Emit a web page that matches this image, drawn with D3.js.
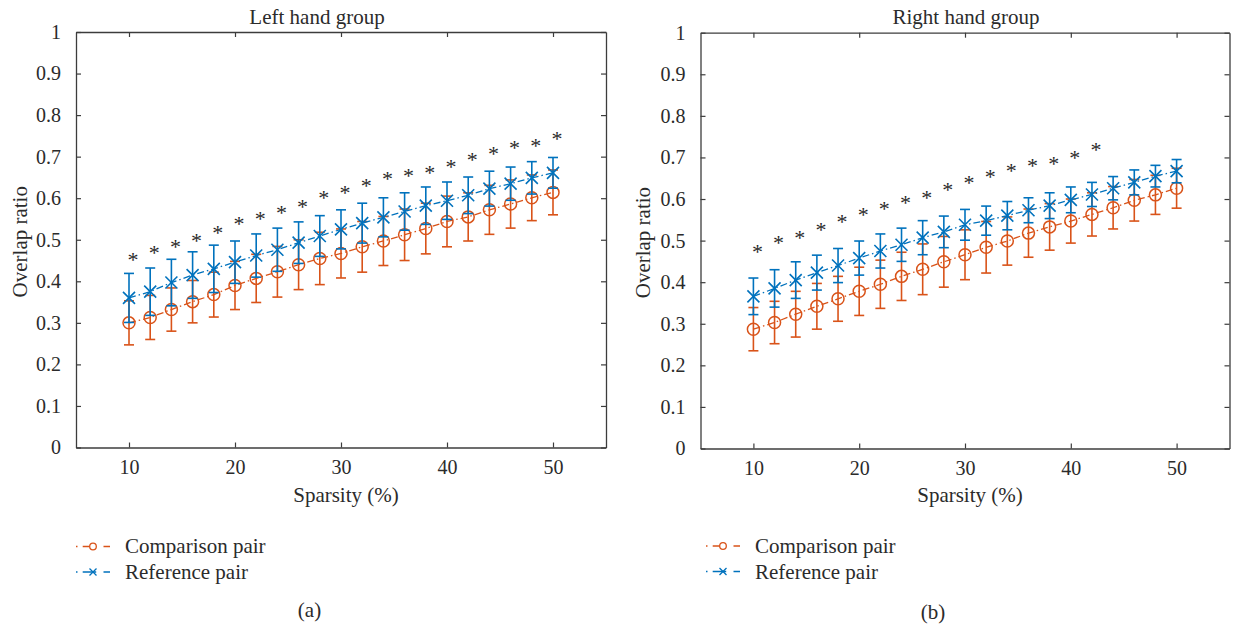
<!DOCTYPE html>
<html>
<head>
<meta charset="utf-8">
<script src="https://cdn.jsdelivr.net/npm/d3@7"></script>
<style>
  html, body { margin: 0; padding: 0; background: #fff; }
  svg { display: block; }
</style>
</head>
<body>
<svg id="chart" width="1237" height="631"></svg>
<script>
// ---------------- data ----------------
const sparsity = [10, 12, 14, 16, 18, 20, 22, 24, 26, 28, 30, 32, 34, 36, 38, 40, 42, 44, 46, 48, 50];
const xTicks = [10, 20, 30, 40, 50];
const yTicks = [0, 0.1, 0.2, 0.3, 0.4, 0.5, 0.6, 0.7, 0.8, 0.9, 1];
const yTickLabels = ["0", "0.1", "0.2", "0.3", "0.4", "0.5", "0.6", "0.7", "0.8", "0.9", "1"];

// Left hand group
const leftComparisonMean = [0.300, 0.313, 0.332, 0.351, 0.368, 0.390, 0.407, 0.423, 0.440, 0.455, 0.467, 0.483, 0.497, 0.512, 0.527, 0.544, 0.555, 0.572, 0.586, 0.601, 0.614];
const leftComparisonSD   = [0.053, 0.053, 0.052, 0.051, 0.054, 0.058, 0.058, 0.061, 0.060, 0.063, 0.059, 0.061, 0.059, 0.062, 0.061, 0.061, 0.058, 0.059, 0.058, 0.055, 0.054];
const leftReferenceMean  = [0.360, 0.375, 0.397, 0.415, 0.430, 0.446, 0.462, 0.476, 0.493, 0.509, 0.525, 0.540, 0.554, 0.568, 0.582, 0.594, 0.607, 0.623, 0.635, 0.649, 0.661];
const leftReferenceSD    = [0.059, 0.057, 0.056, 0.056, 0.057, 0.051, 0.052, 0.052, 0.050, 0.049, 0.047, 0.048, 0.047, 0.045, 0.045, 0.045, 0.044, 0.042, 0.040, 0.039, 0.037];
const leftStarX = [10, 12, 14, 16, 18, 20, 22, 24, 26, 28, 30, 32, 34, 36, 38, 40, 42, 44, 46, 48, 50];
const leftStarY = [0.462, 0.477, 0.491, 0.507, 0.527, 0.547, 0.559, 0.574, 0.588, 0.609, 0.622, 0.639, 0.656, 0.663, 0.670, 0.684, 0.702, 0.717, 0.731, 0.736, 0.751];

// Right hand group
const rightComparisonMean = [0.287, 0.303, 0.323, 0.342, 0.360, 0.378, 0.395, 0.414, 0.431, 0.449, 0.466, 0.484, 0.499, 0.518, 0.533, 0.547, 0.563, 0.579, 0.597, 0.610, 0.626];
const rightComparisonSD   = [0.052, 0.051, 0.055, 0.055, 0.054, 0.058, 0.058, 0.058, 0.061, 0.061, 0.060, 0.062, 0.058, 0.058, 0.056, 0.053, 0.052, 0.051, 0.050, 0.047, 0.048];
const rightReferenceMean  = [0.366, 0.385, 0.405, 0.423, 0.440, 0.458, 0.475, 0.490, 0.507, 0.521, 0.538, 0.548, 0.560, 0.573, 0.584, 0.598, 0.611, 0.626, 0.640, 0.655, 0.667];
const rightReferenceSD    = [0.044, 0.045, 0.044, 0.042, 0.041, 0.041, 0.041, 0.040, 0.041, 0.038, 0.037, 0.035, 0.034, 0.030, 0.031, 0.031, 0.029, 0.028, 0.030, 0.026, 0.028];
const rightStarX = [10, 12, 14, 16, 18, 20, 22, 24, 26, 28, 30, 32, 34, 36, 38, 40, 42];
const rightStarY = [0.483, 0.504, 0.516, 0.535, 0.555, 0.570, 0.586, 0.599, 0.613, 0.632, 0.649, 0.663, 0.678, 0.689, 0.694, 0.709, 0.727];

const seriesNames = ["Comparison pair", "Reference pair"];
const titles = ["Left hand group", "Right hand group"];
const subLabels = ["(a)", "(b)"];
const xLabel = "Sparsity (%)";
const yLabel = "Overlap ratio";

// ---------------- styles / layout ----------------
const FONT = "'Liberation Serif'";
const TXT = "#2b2b2b";
const ORANGE = "#D95319";
const BLUE = "#0072BD";
const AXIS = "#3c3c3c";
const DASH = "7,3,1.5,3";

const panels = [
  { x0: 76, x1: 606, yTop: 32, yBot: 447.5, titleX: 317, xLabelDx: 5, sub: 309.5, subY: 617,
    legX: 76, legMark: 93, legTextX: 125, legY: [546.5, 572], legBase: [553, 579],
    comp: [leftComparisonMean, leftComparisonSD], ref: [leftReferenceMean, leftReferenceSD],
    starX: leftStarX, starY: leftStarY, ylabX: 27 },
  { x0: 700.5, x1: 1229.5, yTop: 32.7, yBot: 448.5, titleX: 966, xLabelDx: 5, sub: 933, subY: 619,
    legX: 706, legMark: 723, legTextX: 755, legY: [546, 571.5], legBase: [553, 579],
    comp: [rightComparisonMean, rightComparisonSD], ref: [rightReferenceMean, rightReferenceSD],
    starX: rightStarX, starY: rightStarY, ylabX: 650 }
];

const svg = d3.select("#chart").style("font-family", FONT);
const styleText = (sel, size) => sel.attr("font-family", "Liberation Serif").style("font-family", FONT)
  .attr("font-size", size).style("fill", TXT);

panels.forEach((p, pi) => {
  const x = d3.scaleLinear().domain([5, 55]).range([p.x0, p.x1]);
  const y = d3.scaleLinear().domain([0, 1]).range([p.yBot, p.yTop]);
  const g = svg.append("g");

  const fmt = (d) => yTickLabels[yTicks.indexOf(d)];
  const axB = g.append("g").attr("transform", `translate(0,${p.yBot})`)
    .call(d3.axisBottom(x).tickValues(xTicks).tickSizeInner(-5).tickSizeOuter(0).tickPadding(12).tickFormat(d3.format("d")));
  const axT = g.append("g").attr("transform", `translate(0,${p.yTop})`)
    .call(d3.axisTop(x).tickValues(xTicks).tickSizeInner(-5).tickSizeOuter(0).tickFormat(""));
  const axL = g.append("g").attr("transform", `translate(${p.x0},0)`)
    .call(d3.axisLeft(y).tickValues(yTicks).tickSizeInner(-5).tickSizeOuter(0).tickPadding(15).tickFormat(fmt));
  const axR = g.append("g").attr("transform", `translate(${p.x1},0)`)
    .call(d3.axisRight(y).tickValues(yTicks).tickSizeInner(-5).tickSizeOuter(0).tickFormat(""));
  [axB, axT, axL, axR].forEach(a => {
    a.attr("font-family", "Liberation Serif").attr("font-size", 20);
    a.select(".domain").attr("stroke", AXIS).attr("stroke-width", 1.3);
    a.selectAll(".tick line").attr("stroke", AXIS).attr("stroke-width", 1.2);
    styleText(a.selectAll(".tick text"), 20);
  });

  const series = [
    { mean: p.comp[0], sd: p.comp[1], color: ORANGE, marker: "circle" },
    { mean: p.ref[0], sd: p.ref[1], color: BLUE, marker: "cross" }
  ];
  series.forEach(s => {
    const pts = sparsity.map((sx, i) => ({ x: sx, m: s.mean[i], e: s.sd[i] }));
    const sg = g.append("g");
    const eb = sg.selectAll("g.eb").data(pts).join("g").attr("class", "eb")
      .attr("stroke", s.color).attr("stroke-width", 1.6).attr("fill", "none");
    eb.append("line").attr("x1", d => x(d.x)).attr("x2", d => x(d.x))
      .attr("y1", d => y(d.m - d.e)).attr("y2", d => y(d.m + d.e));
    eb.append("line").attr("x1", d => x(d.x) - 5).attr("x2", d => x(d.x) + 5)
      .attr("y1", d => y(d.m - d.e)).attr("y2", d => y(d.m - d.e));
    eb.append("line").attr("x1", d => x(d.x) - 5).attr("x2", d => x(d.x) + 5)
      .attr("y1", d => y(d.m + d.e)).attr("y2", d => y(d.m + d.e));
    sg.append("path").datum(pts)
      .attr("d", d3.line().x(d => x(d.x)).y(d => y(d.m)))
      .attr("fill", "none").attr("stroke", s.color).attr("stroke-width", 1.3)
      .attr("stroke-dasharray", DASH);
    if (s.marker === "circle") {
      sg.selectAll("circle.mk").data(pts).join("circle").attr("class", "mk")
        .attr("cx", d => x(d.x)).attr("cy", d => y(d.m)).attr("r", 6)
        .attr("fill", "none").attr("stroke", s.color).attr("stroke-width", 1.5);
    } else {
      sg.selectAll("path.mk").data(pts).join("path").attr("class", "mk")
        .attr("transform", d => `translate(${x(d.x)},${y(d.m)})`)
        .attr("d", "M-6,-6L6,6M-6,6L6,-6")
        .attr("fill", "none").attr("stroke", s.color).attr("stroke-width", 1.6);
    }
  });

  styleText(g.selectAll("text.star").data(p.starX.map((sx, i) => ({ x: sx, v: p.starY[i] })))
    .join("text").attr("class", "star")
    .attr("x", d => x(d.x) + 4).attr("y", d => y(d.v) + 11)
    .attr("text-anchor", "middle").text("*"), 22).style("fill", "#2a2a2a");

  styleText(g.append("text").attr("x", p.titleX).attr("y", 24).attr("text-anchor", "middle")
    .text(titles[pi]), 21);
  styleText(g.append("text").attr("x", (p.x0 + p.x1) / 2 + p.xLabelDx).attr("y", 502).attr("text-anchor", "middle")
    .text(xLabel), 21);
  styleText(g.append("text").attr("transform", `translate(${p.ylabX},${(p.yTop + p.yBot) / 2 + 2}) rotate(-90)`)
    .attr("text-anchor", "middle").text(yLabel), 21);
  styleText(g.append("text").attr("x", p.sub).attr("y", p.subY).attr("text-anchor", "middle")
    .text(subLabels[pi]), 21);

  series.forEach((s, si) => {
    const ly = p.legY[si];
    const lg = g.append("g");
    lg.append("line").attr("x1", p.legX).attr("x2", p.legX + 34).attr("y1", ly).attr("y2", ly)
      .attr("stroke", s.color).attr("stroke-width", 1.3).attr("stroke-dasharray", "1.5,5.2,13.5,7.3,7,20");
    if (s.marker === "circle") {
      lg.append("circle").attr("cx", p.legMark).attr("cy", ly).attr("r", 3.3)
        .attr("fill", "#fff").attr("stroke", s.color).attr("stroke-width", 1.3);
    } else {
      lg.append("path").attr("transform", `translate(${p.legMark},${ly})`)
        .attr("d", "M-3.5,-3.5L3.5,3.5M-3.5,3.5L3.5,-3.5")
        .attr("stroke", s.color).attr("stroke-width", 1.3);
    }
    styleText(lg.append("text").attr("x", p.legTextX).attr("y", p.legBase[si])
      .text(seriesNames[si]), 21);
  });
});
</script>
</body>
</html>
